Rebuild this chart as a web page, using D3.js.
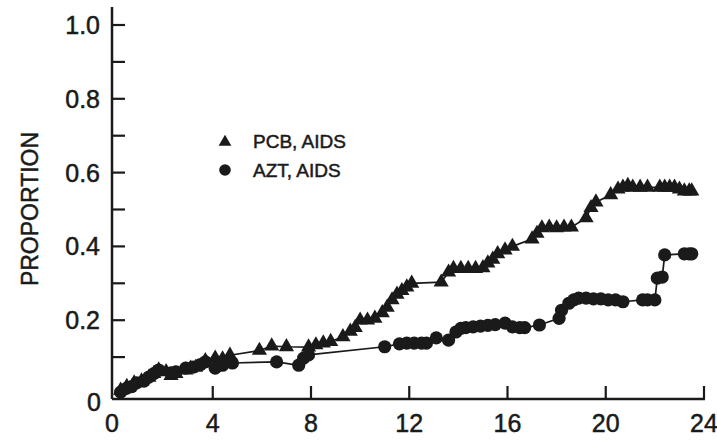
<!DOCTYPE html>
<html>
<head>
<meta charset="utf-8">
<script src="https://cdn.jsdelivr.net/npm/d3@7"></script>
<style>
  body { margin: 0; background: #fff; }
  text { font-family: "Liberation Sans", Arial, sans-serif; fill: #1a1a1a; stroke: #1a1a1a; stroke-width: 0.5px; }
</style>
</head>
<body>
<script>
let width = 717;
let height = 442;

// months on study, proportion with AIDS
let pcbX = [0.25, 0.5, 0.8, 1.1, 1.4, 1.6, 1.8, 2.1, 2.3, 2.5, 2.9, 3.1, 3.3, 3.7, 4.1, 4.4, 4.7,
  5.9, 6.4, 7.0, 7.9, 8.2, 8.5, 8.8, 9.3, 9.6, 9.8, 10.0, 10.3, 10.6, 10.9, 11.1, 11.3, 11.5, 11.7,
  11.9, 12.1, 13.3, 13.6, 13.8, 14.1, 14.4, 14.7, 15.0, 15.2, 15.4, 15.6, 15.9, 16.2, 17.0, 17.2,
  17.4, 17.7, 18.0, 18.3, 18.6, 19.2, 19.4, 19.6, 20.2, 20.5, 20.7, 20.9, 21.1, 21.4, 21.7, 22.2,
  22.4, 22.6, 22.8, 23.0, 23.2, 23.4, 23.5];
let pcbY = [0.01, 0.02, 0.03, 0.035, 0.045, 0.055, 0.065, 0.06, 0.05, 0.055, 0.065, 0.07, 0.072, 0.09, 0.097, 0.095, 0.105,
  0.118, 0.13, 0.128, 0.127, 0.133, 0.138, 0.142, 0.155, 0.17, 0.18, 0.2, 0.2, 0.205, 0.22, 0.235, 0.255, 0.27, 0.28,
  0.29, 0.3, 0.303, 0.33, 0.34, 0.34, 0.34, 0.34, 0.342, 0.355, 0.365, 0.38, 0.39, 0.4, 0.42, 0.435,
  0.45, 0.452, 0.45, 0.452, 0.452, 0.477, 0.505, 0.52, 0.54, 0.555, 0.56, 0.565, 0.56, 0.56, 0.56, 0.56,
  0.56, 0.56, 0.56, 0.555, 0.55, 0.55, 0.55];

let aztX = [0.25, 0.5, 0.7, 0.9, 1.2, 1.4, 1.6, 1.8, 2.3, 2.5, 2.9, 3.2, 3.5, 3.7, 4.1, 4.4, 4.8,
  6.6, 7.5, 7.7, 7.9, 11.0, 11.6, 11.9, 12.2, 12.5, 12.7, 13.1, 13.6, 13.9, 14.1, 14.3, 14.6, 14.9,
  15.2, 15.5, 15.9, 16.2, 16.5, 16.7, 17.3, 18.1, 18.2, 18.5, 18.7, 18.9, 19.2, 19.5, 19.8, 20.1,
  20.4, 20.7, 21.5, 21.7, 22.0, 22.1, 22.3, 22.4, 23.2, 23.4, 23.5];
let aztY = [0.005, 0.016, 0.02, 0.03, 0.035, 0.046, 0.055, 0.065, 0.057, 0.06, 0.07, 0.073, 0.08, 0.087, 0.07, 0.078, 0.084,
  0.087, 0.078, 0.097, 0.106, 0.128, 0.136, 0.138, 0.138, 0.138, 0.138, 0.152, 0.146, 0.168, 0.178, 0.18, 0.182, 0.184,
  0.186, 0.188, 0.192, 0.182, 0.18, 0.18, 0.187, 0.205, 0.227, 0.246, 0.255, 0.26, 0.26, 0.258, 0.258, 0.255,
  0.255, 0.25, 0.255, 0.255, 0.255, 0.314, 0.317, 0.377, 0.38, 0.38, 0.38];

let xTicks = [0, 4, 8, 12, 16, 20, 24];
let yTicks = [0.1, 0.2, 0.3, 0.4, 0.5, 0.6, 0.7, 0.8, 0.9, 1.0];
let yLabels = [0.2, 0.4, 0.6, 0.8, 1.0];
let legendNames = ["PCB, AIDS", "AZT, AIDS"];

let ink = "#1a1a1a";
let axisLeft = 112;
let axisBottom = 399;

let svg = d3.select("body").append("svg").attr("width", width).attr("height", height);

let x = d3.scaleLinear().domain([0, 24]).range([114.5, 704]);
let y = d3.scaleLinear().domain([0, 1]).range([394, 25]);

// axes
svg.append("line")
  .attr("x1", axisLeft).attr("x2", axisLeft)
  .attr("y1", 7).attr("y2", axisBottom)
  .attr("stroke", ink).attr("stroke-width", 2.5);
svg.append("line")
  .attr("x1", axisLeft).attr("x2", x(24) + 1)
  .attr("y1", axisBottom).attr("y2", axisBottom)
  .attr("stroke", ink).attr("stroke-width", 2.5);

svg.selectAll(".ytick").data(yTicks).enter().append("line")
  .attr("x1", axisLeft).attr("x2", axisLeft + 13)
  .attr("y1", d => y(d)).attr("y2", d => y(d))
  .attr("stroke", ink).attr("stroke-width", 2.2);

svg.selectAll(".xtick").data(xTicks.slice(1)).enter().append("line")
  .attr("x1", d => x(d)).attr("x2", d => x(d))
  .attr("y1", axisBottom).attr("y2", axisBottom - 13)
  .attr("stroke", ink).attr("stroke-width", 2.2);

svg.selectAll(".ylabel").data(yLabels).enter().append("text")
  .attr("x", 100).attr("y", d => y(d))
  .attr("dy", "0.36em")
  .attr("text-anchor", "end")
  .style("font-size", "25px")
  .text(d => d.toFixed(1));

svg.append("text")
  .attr("x", 101).attr("y", axisBottom + 3)
  .attr("dy", "0.36em")
  .attr("text-anchor", "end")
  .style("font-size", "25px")
  .text("0");

svg.selectAll(".xlabel").data(xTicks).enter().append("text")
  .attr("x", d => d === 0 ? axisLeft : x(d))
  .attr("y", 432)
  .attr("text-anchor", "middle")
  .style("font-size", "25px")
  .text(d => d);

svg.append("text")
  .attr("transform", "translate(38,209) rotate(-90)")
  .attr("text-anchor", "middle")
  .style("font-size", "23px")
  .text("PROPORTION");

// series
let line = d3.line().x(d => x(d[0])).y(d => y(d[1]));
let pcb = d3.zip(pcbX, pcbY);
let azt = d3.zip(aztX, aztY);

svg.append("path").datum(azt).attr("d", line)
  .attr("fill", "none").attr("stroke", ink).attr("stroke-width", 1.7);
svg.append("path").datum(pcb).attr("d", line)
  .attr("fill", "none").attr("stroke", ink).attr("stroke-width", 1.7);

let triangle = d3.symbol().type(d3.symbolTriangle).size(100);

svg.selectAll(".pcb").data(pcb).enter().append("path")
  .attr("d", triangle)
  .attr("transform", d => "translate(" + x(d[0]) + "," + y(d[1]) + ")")
  .attr("fill", ink);

svg.selectAll(".azt").data(azt).enter().append("circle")
  .attr("cx", d => x(d[0])).attr("cy", d => y(d[1]))
  .attr("r", 6.6)
  .attr("fill", ink);

// legend
let legend = svg.append("g");
legend.append("path")
  .attr("d", d3.symbol().type(d3.symbolTriangle).size(70))
  .attr("transform", "translate(225,142)")
  .attr("fill", ink);
legend.append("circle")
  .attr("cx", 225).attr("cy", 170).attr("r", 5.8)
  .attr("fill", ink);
legend.selectAll(".lname").data(legendNames).enter().append("text")
  .attr("x", 253).attr("y", (d, i) => 141 + i * 29)
  .attr("dy", "0.36em")
  .style("font-size", "19px")
  .text(d => d);
</script>
</body>
</html>
